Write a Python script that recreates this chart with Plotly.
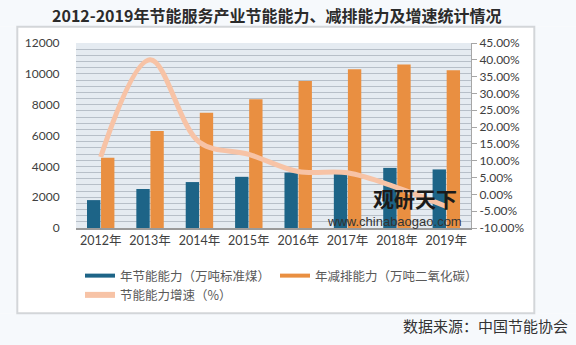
import plotly.graph_objects as go

years = ["2012年", "2013年", "2014年", "2015年", "2016年", "2017年", "2018年", "2019年"]
energy_saving = [1810, 2530, 2980, 3320, 3590, 3520, 3900, 3800]        # 万吨标准煤
emission_reduction = [4550, 6300, 7470, 8350, 9540, 10300, 10600, 10240]  # 万吨二氧化碳
growth = [11.1, 40.0, 15.5, 11.9, 6.8, 6.4, 2.0, -3.6]                  # %

left_grid_vals = list(range(0, 12001, 400))
left_tick_labels = [str(v) if v % 2000 == 0 else "" for v in left_grid_vals]
right_ticks = [45, 40, 35, 30, 25, 20, 15, 10, 5, 0, -5, -10]
right_tick_labels = [f"{v:.2f}%" for v in right_ticks]

BLUE = "#1d6487"
ORANGE = "#e98f41"
PEACH = "#f7c3a6"
FONT = "Lato, Noto Sans CJK SC, sans-serif"

W, H = 576, 345
L, R, T, B = 76, 471, 43, 228


def px(x):
    return (x - L) / (R - L)


def py(y):
    return (B - y) / (B - T)


fig = go.Figure()
fig.add_trace(go.Bar(x=years, y=energy_saving, name="年节能能力（万吨标准煤）",
                     marker=dict(color=BLUE, line=dict(width=0)), showlegend=False))
fig.add_trace(go.Bar(x=years, y=emission_reduction, name="年减排能力（万吨二氧化碳）",
                     marker=dict(color=ORANGE, line=dict(width=0)), showlegend=False))
fig.add_trace(go.Scatter(x=years, y=growth, yaxis="y2", mode="lines",
                         line=dict(color=PEACH, width=5, shape="spline", smoothing=1.0),
                         showlegend=False, name="节能能力增速（%）"))
fig.add_trace(go.Scatter(x=[None], y=[None], mode="lines", line=dict(color=BLUE, width=4),
                         name="年节能能力（万吨标准煤）"))
fig.add_trace(go.Scatter(x=[None], y=[None], mode="lines", line=dict(color=ORANGE, width=4),
                         name="年减排能力（万吨二氧化碳）"))
fig.add_trace(go.Scatter(x=[None], y=[None], mode="lines", line=dict(color=PEACH, width=6),
                         name="节能能力增速（%）"))

OUT = "#f6f9fc"
pl, pr, pt, pb = 17.3, 534.3, 26.7, 313.3
shapes = [
    dict(type="rect", xref="paper", yref="paper", x0=px(0), x1=px(W), y0=py(0), y1=py(pt),
         fillcolor=OUT, line=dict(width=0), layer="below"),
    dict(type="rect", xref="paper", yref="paper", x0=px(0), x1=px(W), y0=py(pb), y1=py(H),
         fillcolor=OUT, line=dict(width=0), layer="below"),
    dict(type="rect", xref="paper", yref="paper", x0=px(0), x1=px(pl), y0=py(pt), y1=py(pb),
         fillcolor=OUT, line=dict(width=0), layer="below"),
    dict(type="rect", xref="paper", yref="paper", x0=px(pr), x1=px(W), y0=py(pt), y1=py(pb),
         fillcolor=OUT, line=dict(width=0), layer="below"),
    dict(type="rect", xref="paper", yref="paper", x0=px(pl), x1=px(pr), y0=py(pb), y1=py(pt),
         fillcolor="rgba(0,0,0,0)", line=dict(color="#d3d6d9", width=2), layer="below"),
]

annotations = [
    dict(text="<b>2012-2019年节能服务产业节能能力、减排能力及增速统计情况</b>", xref="paper", yref="paper",
         x=px(276), y=py(15), xanchor="center", yanchor="middle", showarrow=False,
         font=dict(family="Noto Sans CJK SC", size=16, color="#2b2b2b")),
    dict(text="数据来源：中国节能协会", xref="paper", yref="paper", x=px(570), y=py(325),
         xanchor="right", yanchor="middle", showarrow=False,
         font=dict(family="Noto Sans CJK SC", size=15, color="#333333")),
    dict(text="<b>观研天下</b>", xref="paper", yref="paper", x=px(415), y=py(198),
         xanchor="center", yanchor="middle", showarrow=False,
         font=dict(family="Noto Sans CJK SC", size=21, color="#1a1a1a")),
    dict(text="www.chinabaogao.com", xref="paper", yref="paper", x=px(394), y=py(221),
         xanchor="center", yanchor="middle", showarrow=False,
         font=dict(family="Liberation Sans", size=13, color="#333333")),
]

fig.update_layout(
    width=W, height=H,
    margin=dict(l=L, r=W - R, t=T, b=H - B, pad=0),
    paper_bgcolor="white",
    plot_bgcolor="#e5ebf1",
    barmode="group", bargap=0.43, bargroupgap=0.05,
    font=dict(family=FONT, size=12, color="#595959"),
    shapes=shapes, annotations=annotations,
    xaxis=dict(showgrid=False, showline=True, linecolor="#9a9a9a", linewidth=1.5,
               ticks="", tickfont=dict(size=12.5, color="#404040")),
    yaxis=dict(range=[0, 12000], tickmode="array", tickvals=left_grid_vals, ticktext=left_tick_labels,
               showgrid=True, gridcolor="#b7bfc8", gridwidth=1, zeroline=False, showline=False,
               ticks="outside", ticklen=13, tickcolor="rgba(0,0,0,0)", tickfont=dict(size=12, color="#404040")),
    yaxis2=dict(range=[-10, 45], tickmode="array", tickvals=right_ticks, ticktext=right_tick_labels,
                overlaying="y", side="right",
                showgrid=False, zeroline=False, showline=True, linecolor="#a6a6a6", linewidth=1,
                ticks="outside", ticklen=5, tickcolor="#a6a6a6",
                tickfont=dict(size=12, color="#404040")),
    legend=dict(orientation="h", x=px(80), y=py(261), xanchor="left", yanchor="top",
                bgcolor="white", entrywidth=150, itemwidth=30,
                font=dict(family="Noto Sans CJK SC", size=12.5, color="#595959")),
)

fig.write_html("out.html")
